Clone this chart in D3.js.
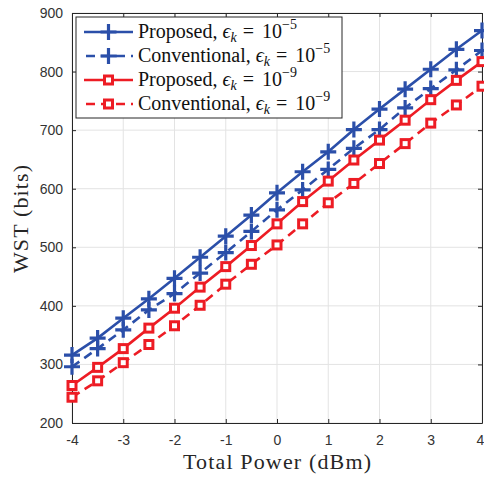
<!DOCTYPE html>
<html>
<head>
<meta charset="utf-8">
<script src="https://cdn.jsdelivr.net/npm/d3@7"></script>
<style>
  html, body { margin: 0; padding: 0; background: #fff; }
  svg { display: block; }
</style>
</head>
<body>
<svg id="chart" width="484" height="478"></svg>
<script>
// Total transmit power (dBm)
const powerDbm = [-4, -3.5, -3, -2.5, -2, -1.5, -1, -0.5, 0, 0.5, 1, 1.5, 2, 2.5, 3, 3.5, 4];

// WST (bits) for each scheme / reliability target
const proposedE5     = [316, 345, 379, 412, 447, 483, 519, 555, 593, 629, 663, 701, 736, 770, 804, 838, 870];
const conventionalE5 = [296, 327, 359, 393, 421, 456, 491, 527, 564, 598, 633, 669, 701, 738, 771, 803, 836];
const proposedE9     = [264, 295, 327, 362, 396, 432, 467, 503, 540, 578, 613, 649, 683, 717, 752, 785, 817];
const conventionalE9 = [244, 272, 303, 334, 366, 401, 437, 471, 504, 540, 576, 609, 643, 677, 712, 743, 775];

const xTicks = [-4, -3, -2, -1, 0, 1, 2, 3, 4];
const yTicks = [200, 300, 400, 500, 600, 700, 800, 900];

const seriesNames = ["Proposed", "Conventional", "Proposed", "Conventional"];
const seriesExp = ["\u22125", "\u22125", "\u22129", "\u22129"];

const BLUE = "#2b4fa9";
const RED = "#ed1c24";

const series = [
  { name: seriesNames[0], exp: seriesExp[0], values: proposedE5,     color: BLUE, dashed: false, marker: "plus" },
  { name: seriesNames[1], exp: seriesExp[1], values: conventionalE5, color: BLUE, dashed: true,  marker: "plus" },
  { name: seriesNames[2], exp: seriesExp[2], values: proposedE9,     color: RED,  dashed: false, marker: "square" },
  { name: seriesNames[3], exp: seriesExp[3], values: conventionalE9, color: RED,  dashed: true,  marker: "square" }
];

const svg = d3.select("#chart");
const margin = { left: 72, right: 2, top: 13, bottom: 55 };
const W = 484, H = 478;
const plotW = W - margin.left - margin.right;
const plotH = H - margin.top - margin.bottom;

const x = d3.scaleLinear().domain([-4, 4]).range([margin.left, margin.left + plotW]);
const y = d3.scaleLinear().domain([200, 900]).range([margin.top + plotH, margin.top]);

const AXIS = "#262626";
const GRID = "#e3e3e3";

// grid
const g = svg.append("g");
g.selectAll("line.vgrid").data(xTicks).join("line")
  .attr("x1", d => x(d)).attr("x2", d => x(d))
  .attr("y1", y(200)).attr("y2", y(900))
  .attr("stroke", GRID).attr("stroke-width", 1);
g.selectAll("line.hgrid").data(yTicks).join("line")
  .attr("x1", x(-4)).attr("x2", x(4))
  .attr("y1", d => y(d)).attr("y2", d => y(d))
  .attr("stroke", GRID).attr("stroke-width", 1);

// axes (ticks point inward, box on all four sides)
const tickFont = "Liberation Sans, Arial, sans-serif";
const bottomAxis = d3.axisBottom(x).tickValues(xTicks).tickSizeInner(-4).tickSizeOuter(0).tickPadding(12)
  .tickFormat(d3.format("d"));
const leftAxis = d3.axisLeft(y).tickValues(yTicks).tickSizeInner(-4).tickSizeOuter(0).tickPadding(9);
const topAxis = d3.axisTop(x).tickValues(xTicks).tickSizeInner(-4).tickSizeOuter(0).tickFormat("");
const rightAxis = d3.axisRight(y).tickValues(yTicks).tickSizeInner(-4).tickSizeOuter(0).tickFormat("");

function styleAxis(sel) {
  sel.select(".domain").attr("stroke", AXIS).attr("stroke-width", 1);
  sel.selectAll(".tick line").attr("stroke", AXIS).attr("stroke-width", 1);
  sel.selectAll(".tick text").attr("fill", "#333").style("font-family", tickFont).style("font-size", "14px");
}

const bx = svg.append("g").attr("transform", `translate(0,${y(200)})`).call(bottomAxis).call(styleAxis);
bx.selectAll(".tick text")
  .text(d => d < 0 ? "-" + Math.abs(d) : d)
  .attr("dx", d => d === 4 ? -2 : 0);
svg.append("g").attr("transform", `translate(${x(-4)},0)`).call(leftAxis).call(styleAxis);
svg.append("g").attr("transform", `translate(0,${y(900)})`).call(topAxis).call(styleAxis);
svg.append("g").attr("transform", `translate(${x(4)},0)`).call(rightAxis).call(styleAxis);

// lines
const line = d3.line().x((d, i) => x(powerDbm[i])).y(d => y(d));

const plot = svg.append("g");
function drawMarker(sel, s, cx, cy) {
  if (s.marker === "plus") {
    sel.append("path")
      .attr("d", `M${cx - 8},${cy}H${cx + 8}M${cx},${cy - 8}V${cy + 8}`)
      .attr("stroke", s.color).attr("stroke-width", 3.2).attr("fill", "none");
  } else {
    sel.append("rect")
      .attr("x", cx - 4).attr("y", cy - 4).attr("width", 8).attr("height", 8)
      .attr("stroke", s.color).attr("stroke-width", 3).attr("fill", "#fff");
  }
}

series.forEach(s => {
  plot.append("path")
    .attr("d", line(s.values))
    .attr("fill", "none")
    .attr("stroke", s.color)
    .attr("stroke-width", 2.6)
    .attr("stroke-dasharray", s.dashed ? "9,6" : null);
  const mg = plot.append("g");
  s.values.forEach((v, i) => drawMarker(mg, s, x(powerDbm[i]), y(v)));
});

// legend
const serif = "Liberation Serif, 'Times New Roman', serif";
const lg = svg.append("g");
lg.append("rect")
  .attr("x", 76).attr("y", 17).attr("width", 266).attr("height", 101)
  .attr("fill", "#fff").attr("stroke", AXIS).attr("stroke-width", 1);

series.forEach((s, i) => {
  const cy = 32 + i * 24;
  lg.append("line")
    .attr("x1", 84).attr("x2", 133).attr("y1", cy).attr("y2", cy)
    .attr("stroke", s.color).attr("stroke-width", 2.6)
    .attr("stroke-dasharray", s.dashed ? "9,6" : null)
    .attr("stroke-dashoffset", s.dashed ? -2 : 0);
  drawMarker(lg, s, 108.5, cy);
  const t = lg.append("text")
    .attr("x", 138).attr("y", cy + 6)
    .style("font-family", serif).style("font-size", "20px").attr("fill", "#111");
  t.append("tspan").text(s.name + ", ");
  t.append("tspan").style("font-style", "italic").text("\u03f5");
  t.append("tspan").style("font-style", "italic").style("font-size", "14px").attr("dy", 4).text("k");
  t.append("tspan").attr("dy", -4).attr("dx", 1).text(" =");
  t.append("tspan").attr("dx", 3).text(" 10");
  t.append("tspan").style("font-size", "14px").attr("dy", -9).text(s.exp);
});

// axis titles
svg.append("text")
  .attr("x", x(0)).attr("y", 469)
  .attr("text-anchor", "middle")
  .attr("textLength", 188).attr("lengthAdjust", "spacing")
  .style("font-family", serif).style("font-size", "22px").attr("fill", "#262626")
  .text("Total Power (dBm)");

svg.append("text")
  .attr("transform", `translate(28,219) rotate(-90)`)
  .attr("text-anchor", "middle")
  .attr("textLength", 108).attr("lengthAdjust", "spacing")
  .style("font-family", serif).style("font-size", "22px").attr("fill", "#262626")
  .text("WST (bits)");
</script>
</body>
</html>
